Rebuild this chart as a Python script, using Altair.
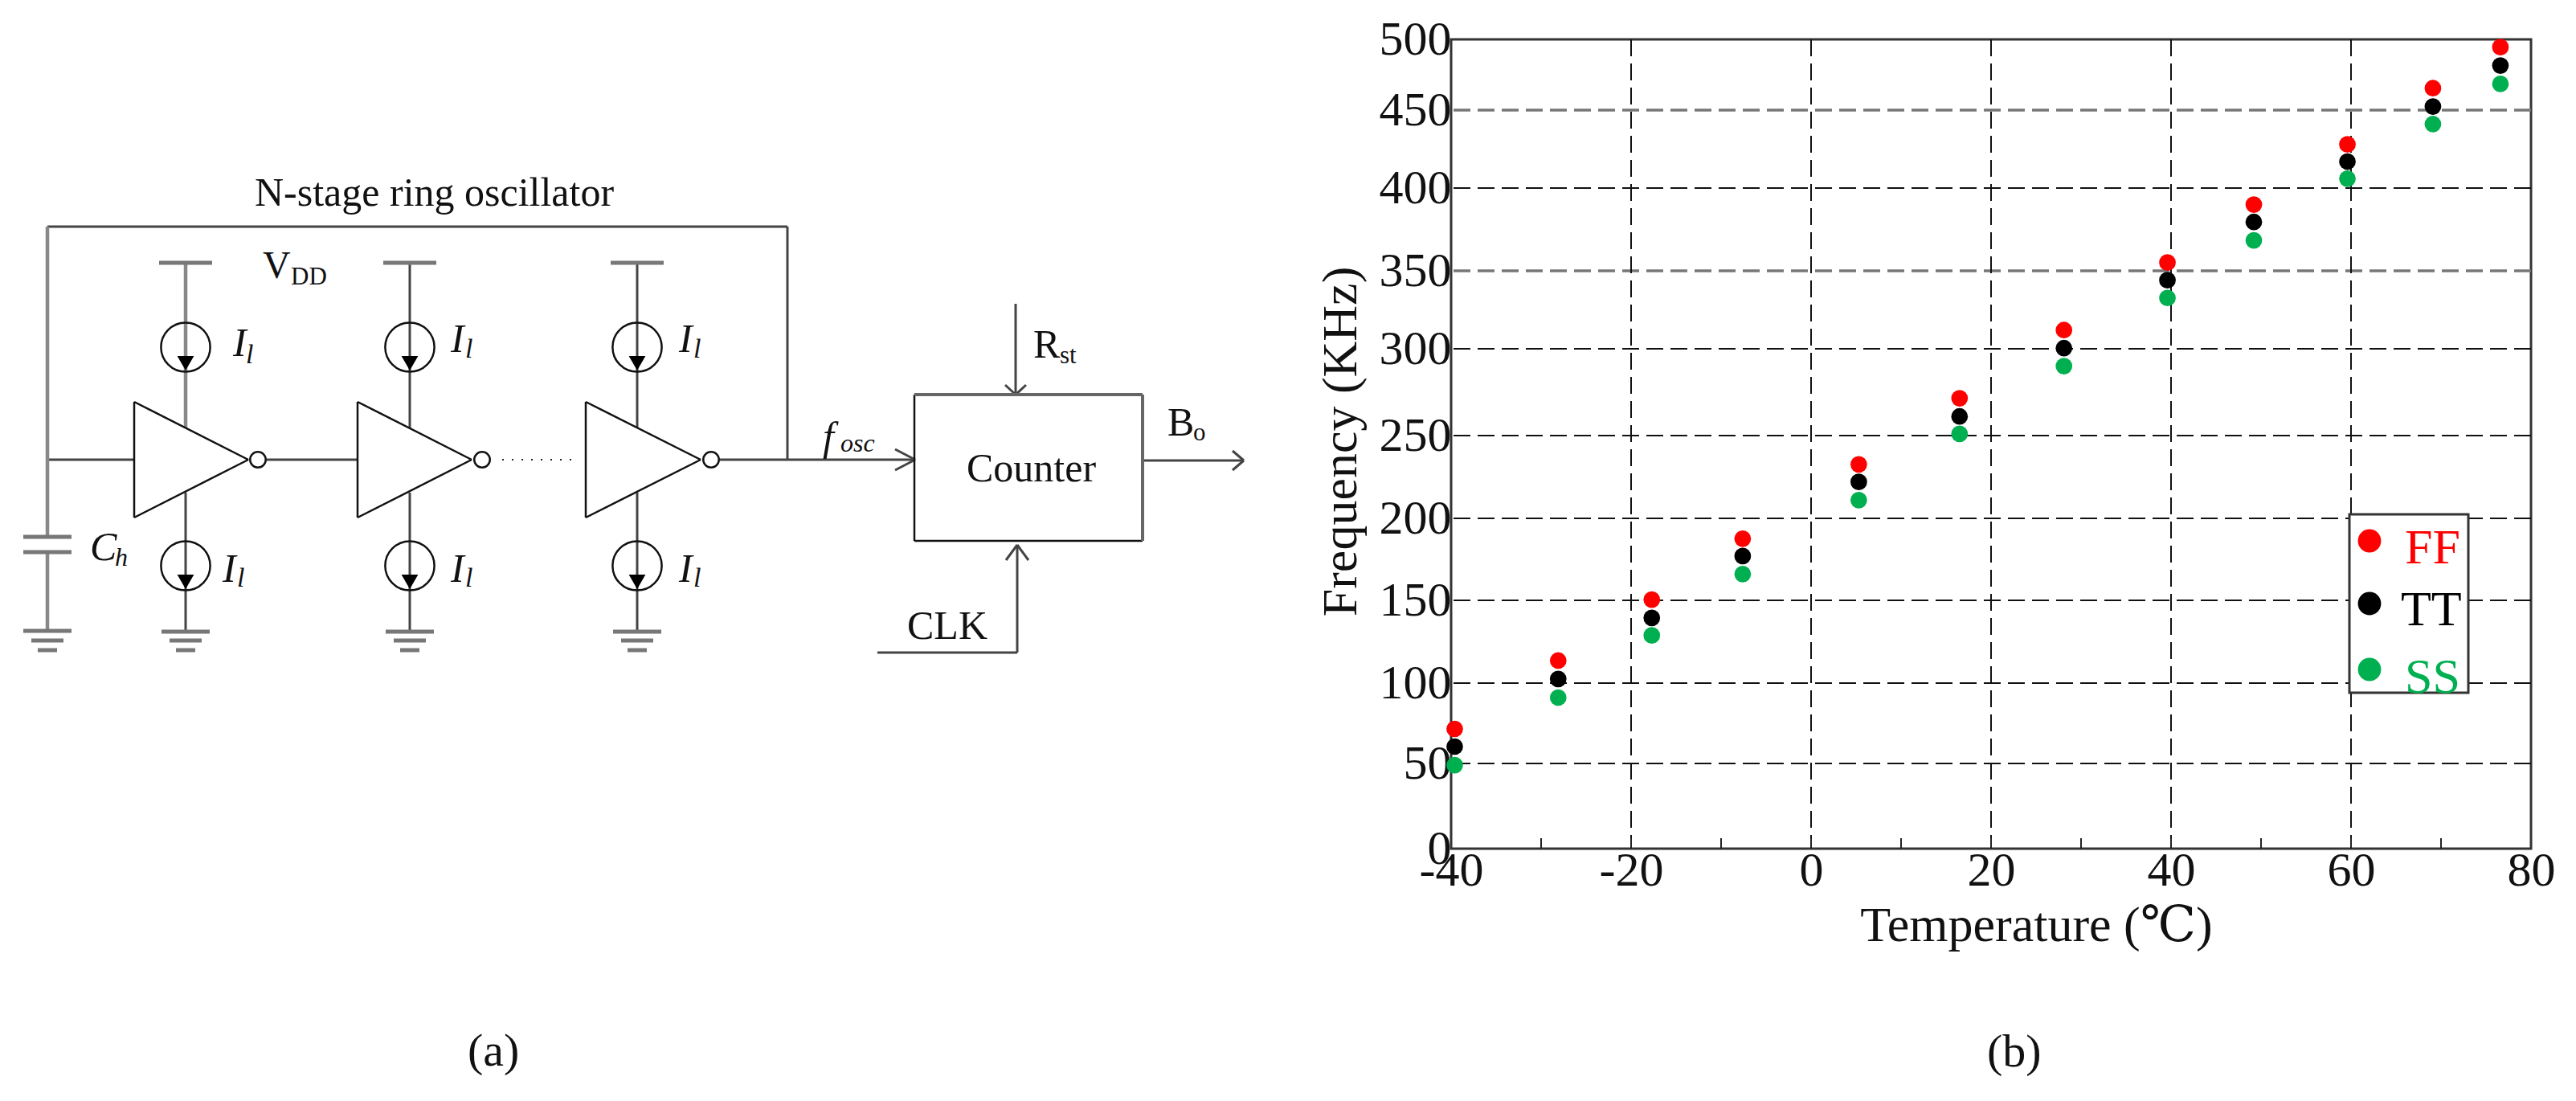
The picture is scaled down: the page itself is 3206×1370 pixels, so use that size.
import altair as alt
import pandas as pd

SERIF = "Liberation Serif, DejaVu Serif, Noto Sans CJK SC"

# ---- chart (b) values ----
temps = [-39.6, -28.1, -17.7, -7.6, 5.3, 16.5, 28.1, 39.6, 49.2, 59.6, 69.1, 76.6]
ff = [71.5, 113.6, 150.4, 187.6, 232.6, 271.5, 312, 355, 390, 428, 465.5, 494.5]
tt = [60.5, 102.5, 139.4, 177, 222, 261, 300.4, 344, 379.5, 417, 452.5, 481.5]
ss = [49, 91, 128.8, 166, 211, 251, 290, 332.6, 368.4, 406, 441, 468.5]
y_ticks = [0, 50, 100, 150, 200, 250, 300, 350, 400, 450, 500]
y_pixels = [1007, 901, 801, 698, 596, 493, 385, 288, 185, 88, 0]
x_ticks = [-40, -20, 0, 20, 40, 60, 80]
x_grid = [-20, 0, 20, 40, 60]
x_minor = [-30, -20, -10, 0, 10, 20, 30, 40, 50, 60, 70]
grid_dark = [50, 100, 150, 200, 250, 300, 400]
grid_grey = [350, 450]

# ---- schematic geometry, in reference picture units ----
thin = [  # x0, y0, x1, y1
    (59, 282, 980, 282), (980, 282, 980, 572),
    (59, 572, 167, 572), (332, 572, 445, 572), (896, 572, 1139, 572),
]
thin += [(x, y, x + dx, y + dy) for x, y, dx, dy in [
    (1114, 559, 25, 13), (1114, 585, 25, -13),
    (1264, 378, 0, 113), (1251, 479, 13, 12), (1277, 479, -13, 12),
    (1266, 812, 0, -134), (1092, 812, 174, 0), (1252, 697, 14, -19), (1280, 697, -14, -19),
    (1422, 573, 126, 0), (1534, 561, 14, 12), (1534, 585, 14, -12),
]]
stage_x = [231, 510, 793]
tri_left = [167, 445, 729]
tri_tip = [309, 587, 872]
bubble_x = [321, 600, 885]
upper_circle_y = 432
lower_circle_y = 704
grey_wires = [(59, 282, 59, 668), (59, 687, 59, 785), (231, 327, 231, 532)]
grey_bars = []
for cx in stage_x:
    thin += [(cx, 613, cx, 786)]
    if cx != 231:
        thin += [(cx, 327, cx, 532)]
    grey_bars += [(cx - 33, 327, cx + 33, 327), (cx - 30, 786, cx + 30, 786),
                  (cx - 20, 797, cx + 20, 797), (cx - 12, 809, cx + 12, 809)]
grey_bars += [(29, 668, 89, 668), (29, 687, 89, 687), (29, 785, 89, 785),
              (39, 797, 79, 797), (47, 809, 71, 809)]
outline = []
for l, t in zip(tri_left, tri_tip):
    outline += [(l, 500, l, 644), (l, 500, t, 572), (l, 644, t, 572)]
outline += [(1138, 673, 1422, 673), (1138, 491, 1138, 673)]
box_grey = [(1138, 491, 1422, 491), (1422, 491, 1422, 673)]
dotted = [(625, 572, 720, 572)]

circles = [(x, upper_circle_y) for x in stage_x] + [(x, lower_circle_y) for x in stage_x]
heads = [(x, 452) for x in stage_x] + [(x, 724) for x in stage_x]
bubbles = [(x, 572) for x in bubble_x]

plain_text = [  # x, baseline, size, label
    (317, 256, 50, "N-stage ring oscillator"), (327, 346, 48, "V"), (362, 354, 31, "DD"),
    (1286, 445, 50, "R"), (1319, 452, 31, "st"), (1203, 599, 50, "Counter"),
    (1453, 542, 50, "B"), (1485, 548, 31, "o"), (1129, 795, 50, "CLK"),
    (582, 1326, 58, "(a)"), (2473, 1327, 58, "(b)"),
]
italic_text = [
    (290, 443, 50, "I"), (306, 452, 34, "l"), (561, 438, 50, "I"), (579, 445, 34, "l"),
    (845, 438, 50, "I"), (863, 445, 34, "l"), (277, 724, 50, "I"), (295, 730, 34, "l"),
    (561, 724, 50, "I"), (579, 730, 34, "l"), (845, 724, 50, "I"), (863, 730, 34, "l"),
    (112, 697, 50, "C"), (143, 704, 32, "h"), (1024, 560, 50, "f"), (1046, 562, 32, "osc"),
]

# legend
legend_box = [(2924, 640, 3072, 862)]
legend_names = ["FF", "TT", "SS"]
legend_dot_x = [2949, 2949, 2949]
legend_dot_y = [673, 751, 833]
legend_text_x = [2993, 2988, 2993]
legend_text_y = [701, 778, 862]
RED, BLACK, GREEN = "#ff0000", "#000000", "#00b050"
legend_colors = [RED, BLACK, GREEN]

# ---- scales ----
xs = alt.Scale(domain=[-40, 80], range=[0, 1344], nice=False, zero=False)
ys = alt.Scale(domain=y_ticks, range=y_pixels, nice=False, zero=False)
rx = alt.Scale(domain=[0, 3206], range=[-1806, 1400], nice=False, zero=False)
ry = alt.Scale(domain=[0, 1370], range=[-49, 1321], nice=False, zero=False)

def X(f="t"): return alt.X(f"{f}:Q", scale=xs, axis=None)
def Y(f="v"): return alt.Y(f"{f}:Q", scale=ys, axis=None)
def RX(f="x"): return alt.X(f"{f}:Q", scale=rx, axis=None)
def RY(f="y"): return alt.Y(f"{f}:Q", scale=ry, axis=None)

def segs(rows, color, width, dash=None):
    d = pd.DataFrame(rows, columns=["x", "y", "x2", "y2"])
    kw = dict(color=color, strokeWidth=width)
    if dash: kw["strokeDash"] = dash
    return alt.Chart(d).mark_rule(**kw).encode(
        x=RX(), y=RY(), x2=alt.X2("x2:Q"), y2=alt.Y2("y2:Q"))

def pts(rows, **kw):
    d = pd.DataFrame(rows, columns=["x", "y"])
    return alt.Chart(d).mark_point(**kw).encode(x=RX(), y=RY())

def texts(rows, **kw):
    d = pd.DataFrame(rows, columns=["x", "y", "s", "label"])
    return alt.Chart(d).mark_text(font=SERIF, align="left", baseline="alphabetic", color="#111", **kw).encode(
        x=RX(), y=RY(), text="label:N", size=alt.Size("s:Q", scale=None))

# ---- main axes layer ----
axes = alt.Chart(pd.DataFrame({"t": [-40, 80], "v": [0, 500]})).mark_point(opacity=0).encode(
    x=alt.X("t:Q", scale=xs, axis=alt.Axis(
        values=x_ticks, grid=False, ticks=False, domain=False, labelFont=SERIF, labelFontSize=60,
        labelColor="#111", labelPadding=-2, labelOverlap=False, labelFlush=False,
        labelExpr="'' + datum.value", title="Temperature (℃)", titleFont=SERIF,
        titleFontSize=62, titleFontWeight="normal", titleColor="#111", titleX=728, titleY=114,
        titleBaseline="alphabetic", titleAnchor="middle", titleAlign="center")),
    y=alt.Y("v:Q", scale=ys, axis=alt.Axis(
        values=y_ticks, grid=False, ticks=False, domain=False, labelFont=SERIF, labelFontSize=60,
        labelColor="#111", labelPadding=0, labelOverlap=False, labelFlush=False,
        labelExpr="'' + datum.value", title="Frequency (KHz)", titleFont=SERIF,
        titleFontSize=62, titleFontWeight="normal", titleColor="#111", titleX=-119, titleY=500,
        titleAngle=270, titleBaseline="alphabetic", titleAnchor="middle", titleAlign="center")),
)

dash = [21, 9]
grid_x = alt.Chart(pd.DataFrame({"t": x_grid})).mark_rule(color="#111", strokeWidth=2, strokeDash=dash).encode(x=X())
grid_y1 = alt.Chart(pd.DataFrame({"v": grid_dark})).mark_rule(color="#111", strokeWidth=2, strokeDash=dash).encode(y=Y())
grid_y2 = alt.Chart(pd.DataFrame({"v": grid_grey})).mark_rule(color="#777", strokeWidth=3.5, strokeDash=dash).encode(y=Y())
minor = alt.Chart(pd.DataFrame({"t": x_minor})).mark_rule(color="#222", strokeWidth=2).encode(
    x=X(), y=alt.value(994), y2=alt.value(1007))

def series(vals, color):
    d = pd.DataFrame({"t": temps, "v": vals})
    return alt.Chart(d).mark_circle(color=color, opacity=1, size=430).encode(x=X(), y=Y())

box = alt.Chart(pd.DataFrame(legend_box, columns=["x", "y", "x2", "y2"])).mark_rect(
    fill="white", stroke="#333", strokeWidth=3).encode(
    x=RX(), y=RY(), x2=alt.X2("x2:Q"), y2=alt.Y2("y2:Q"))
ldf = pd.DataFrame({"x": legend_dot_x, "y": legend_dot_y, "tx": legend_text_x, "ty": legend_text_y,
                    "name": legend_names, "c": legend_colors})
ldots = alt.Chart(ldf).mark_circle(opacity=1, size=830).encode(
    x=RX(), y=RY(), color=alt.Color("c:N", scale=None))
ltext = alt.Chart(ldf).mark_text(font=SERIF, fontSize=62, align="left", baseline="alphabetic").encode(
    x=RX("tx"), y=RY("ty"), text="name:N", color=alt.Color("c:N", scale=None))

chart = alt.layer(
    grid_y1, grid_y2, grid_x, minor, axes,
    series(ff, RED), series(tt, BLACK), series(ss, GREEN),
    box, ldots, ltext,
    segs(thin, "#444", 3), segs(grey_wires, "#888", 4.5), segs(grey_bars, "#777", 5),
    segs(outline, "#111", 2.5), segs(box_grey, "#666", 4),
    segs(dotted, "#222", 2, [2, 10]),
    pts(circles, shape="circle", filled=False, color="#111", strokeWidth=2.5, size=3750, opacity=1),
    pts(heads, shape="triangle-down", filled=True, color="#000", size=430, opacity=1),
    pts(bubbles, shape="circle", filled=True, fill="white", stroke="#111", strokeWidth=2.5, size=380, opacity=1),
    texts(plain_text), texts(italic_text, fontStyle="italic"),
).resolve_scale(x="independent", y="independent", color="independent", size="independent").resolve_axis(
    x="independent", y="independent"
).properties(
    width=1344, height=1007,
    padding={"left": 1798, "top": 41, "right": 48, "bottom": 300},
    autosize=alt.AutoSizeParams(type="none"),
    background="white",
).configure_view(stroke="#333", strokeWidth=3)

chart.save("out.html", embed_options={"renderer": "svg", "actions": False})
